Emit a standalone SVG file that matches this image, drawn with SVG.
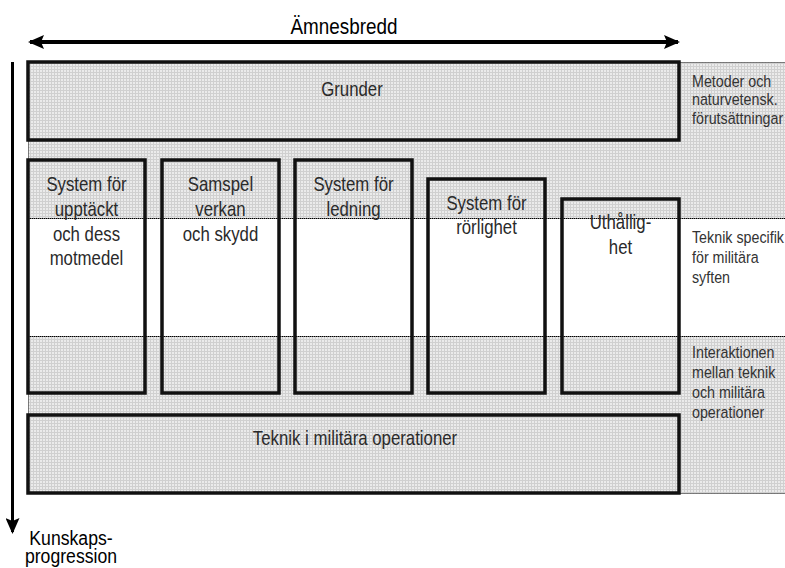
<svg xmlns="http://www.w3.org/2000/svg" width="785" height="568" viewBox="0 0 785 568">
  <style>
    text { font-family: "Liberation Sans", Arial, sans-serif; transform-box: fill-box; transform: scaleX(0.84); }
    .band { fill: url(#grid); stroke: #000; stroke-width: 1; stroke-dasharray: 1 1; }
    .sep { stroke: #000; stroke-width: 1; stroke-dasharray: 1 1; fill: none; }
    .box { fill: none; stroke: #111; stroke-width: 3.5; }
    .wide { fill: url(#grid); stroke: #111; stroke-width: 3.5; }
    .lbl { font-size: 20px; fill: #2a2a2a; text-anchor: middle; transform-origin: center; }
    .side { font-size: 17px; fill: #333; transform-origin: 0 50%; }
    .axis { font-size: 22.5px; fill: #000; text-anchor: middle; transform-origin: center; }
    .axis-v { font-size: 21px; }
    .arrow { stroke: #000; fill: none; }
  </style>
  <defs>
    <pattern id="grid" width="3" height="3" patternUnits="userSpaceOnUse">
      <rect width="3" height="3" fill="#ebebeb"/>
      <rect width="3" height="1" fill="#d0d0d0"/>
      <rect width="1" height="3" fill="#d0d0d0"/>
    </pattern>
    <marker id="head" markerUnits="userSpaceOnUse" markerWidth="16" markerHeight="14" refX="14" refY="7" orient="auto-start-reverse" viewBox="0 0 16 14">
      <path d="M0,0 L16,7 L0,14 L3,7 Z" fill="#000"/>
    </marker>
  </defs>

  <!-- white page -->
  <rect width="785" height="568" fill="#fff"/>

  <!-- shaded bands: foundations (top) and interaction (bottom) -->
  <rect class="band" x="28.5" y="62.5" width="757" height="156"/>
  <rect class="band" x="28.5" y="336.5" width="757" height="157"/>
  <line class="sep" x1="28" y1="218.5" x2="785" y2="218.5"/>
  <line class="sep" x1="28" y1="336.5" x2="785" y2="336.5"/>

  <!-- axis arrows -->
  <g id="connectors">
    <line class="arrow" x1="30" y1="42" x2="678" y2="42" stroke-width="4" marker-start="url(#head)" marker-end="url(#head)"/>
    <line class="arrow" x1="12.5" y1="62" x2="12.5" y2="532" stroke-width="3" marker-end="url(#head)"/>
  </g>

  <text class="axis" x="344" y="34">Ämnesbredd</text>
  <text class="axis axis-v" x="71" y="545">Kunskaps-</text>
  <text class="axis axis-v" x="71" y="563">progression</text>

  <g id="grunder">
    <rect class="wide" x="28" y="62" width="651" height="78"/>
    <text class="lbl" x="352" y="96">Grunder</text>
  </g>

  <g id="upptackt">
    <rect class="box" x="28" y="160" width="117" height="233"/>
    <text class="lbl" x="86.5" y="191">System för</text>
    <text class="lbl" x="86.5" y="216">upptäckt</text>
    <text class="lbl" x="86.5" y="241">och dess</text>
    <text class="lbl" x="86.5" y="265">motmedel</text>
  </g>

  <g id="samspel">
    <rect class="box" x="162" y="160" width="117" height="233"/>
    <text class="lbl" x="220.5" y="191">Samspel</text>
    <text class="lbl" x="220.5" y="216">verkan</text>
    <text class="lbl" x="220.5" y="241">och skydd</text>
  </g>

  <g id="ledning">
    <rect class="box" x="295" y="160" width="117" height="233"/>
    <text class="lbl" x="353.5" y="191">System för</text>
    <text class="lbl" x="353.5" y="216">ledning</text>
  </g>

  <g id="rorlighet">
    <rect class="box" x="428" y="179" width="117" height="214"/>
    <text class="lbl" x="486.5" y="210">System för</text>
    <text class="lbl" x="486.5" y="234">rörlighet</text>
  </g>

  <g id="uthallighet">
    <rect class="box" x="562" y="199" width="117" height="194"/>
    <text class="lbl" x="620.5" y="229">Uthållig-</text>
    <text class="lbl" x="620.5" y="254">het</text>
  </g>

  <g id="operationer">
    <rect class="wide" x="28" y="415" width="651" height="78"/>
    <text class="lbl" x="355" y="445">Teknik i militära operationer</text>
  </g>

  <g id="side-labels">
    <text class="side" x="692" y="87">Metoder och</text>
    <text class="side" x="692" y="105.5">naturvetensk.</text>
    <text class="side" x="692" y="124">förutsättningar</text>
    <text class="side" x="692" y="243">Teknik specifik</text>
    <text class="side" x="692" y="263">för militära</text>
    <text class="side" x="692" y="283">syften</text>
    <text class="side" x="692" y="358">Interaktionen</text>
    <text class="side" x="692" y="378">mellan teknik</text>
    <text class="side" x="692" y="398">och militära</text>
    <text class="side" x="692" y="418">operationer</text>
  </g>
</svg>
